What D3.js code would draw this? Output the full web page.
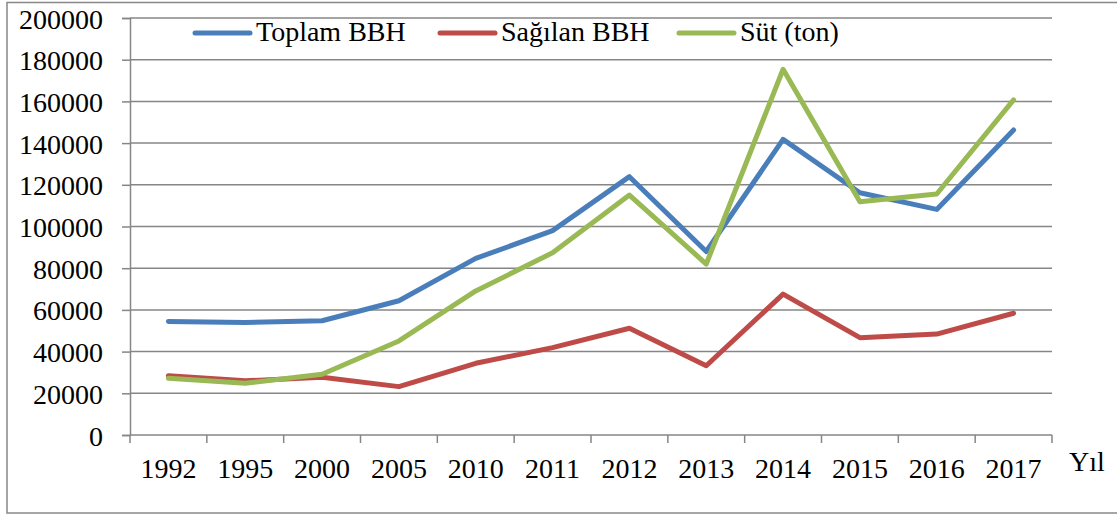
<!DOCTYPE html>
<html>
<head>
<meta charset="utf-8">
<script src="https://cdn.jsdelivr.net/npm/d3@7"></script>
<style>
  body { margin: 0; background: #fff; }
</style>
</head>
<body>
<svg id="chart" width="1117" height="515"></svg>
<script>
var years = ['1992', '1995', '2000', '2005', '2010', '2011', '2012', '2013', '2014', '2015', '2016', '2017'];
var toplam = [54400, 54000, 54800, 64400, 84700, 98000, 123900, 88000, 141800, 116200, 108200, 146300];
var sagilan = [28400, 26000, 27700, 23200, 34400, 41900, 51200, 33200, 67600, 46700, 48400, 58400];
var sut = [27200, 24800, 29100, 45100, 69100, 87400, 115100, 82000, 175400, 111900, 115600, 160700];
var yTicks = [0, 20000, 40000, 60000, 80000, 100000, 120000, 140000, 160000, 180000, 200000];
var seriesNames = ['Toplam BBH', 'Sağılan BBH', 'Süt (ton)'];
var seriesColors = ['#4a7ebb', '#be4b48', '#98b954'];

var svg = d3.select('#chart');
var gridColor = '#868686';
var serif = 'Liberation Serif';

// outer frame of the chart
svg.append('rect')
  .attr('x', 7).attr('y', 2.5)
  .attr('width', 1130).attr('height', 510.5)
  .attr('fill', 'none')
  .attr('stroke', '#888')
  .attr('stroke-width', 1.5);

var x = d3.scaleBand().domain(years).range([130, 1052]);
var y = d3.scaleLinear().domain([0, 200000]).range([435, 18]);

// gridlines
svg.append('g').selectAll('line')
  .data(yTicks.slice(1))
  .enter().append('line')
  .attr('x1', 130).attr('x2', 1052)
  .attr('y1', function(d) { return y(d); })
  .attr('y2', function(d) { return y(d); })
  .attr('stroke', gridColor)
  .attr('stroke-width', 1.5);

var yAxis = svg.append('g')
  .attr('transform', 'translate(130,0)')
  .call(d3.axisLeft(y).tickValues(yTicks).tickSize(8).tickPadding(19).tickFormat(d3.format('d')));
yAxis.select('.domain').attr('stroke', gridColor).attr('stroke-width', 1.5);
yAxis.selectAll('.tick line').attr('stroke', gridColor).attr('stroke-width', 1.5);
yAxis.selectAll('.tick text')
  .attr('dy', '0.36em')
  .style('font-family', serif)
  .style('font-size', '28px')
  .style('fill', '#000');

// x axis with ticks between categories
var xAxis = svg.append('g').attr('transform', 'translate(0,435)');
xAxis.append('line')
  .attr('x1', 130).attr('x2', 1052)
  .attr('stroke', gridColor).attr('stroke-width', 1.5);
xAxis.selectAll('line.tk')
  .data(years.concat(['end']))
  .enter().append('line')
  .attr('class', 'tk')
  .attr('x1', function(d, i) { return 130 + i * x.step(); })
  .attr('x2', function(d, i) { return 130 + i * x.step(); })
  .attr('y1', 0).attr('y2', 8)
  .attr('stroke', gridColor).attr('stroke-width', 1.5);
xAxis.selectAll('text')
  .data(years)
  .enter().append('text')
  .attr('x', function(d) { return x(d) + x.bandwidth() / 2; })
  .attr('y', 43)
  .attr('text-anchor', 'middle')
  .style('font-family', serif)
  .style('font-size', '28px')
  .text(function(d) { return d; });

svg.append('text')
  .attr('x', 1069).attr('y', 471)
  .style('font-family', serif)
  .style('font-size', '28px')
  .text('Yıl');

// series lines
var line = d3.line()
  .x(function(d, i) { return x(years[i]) + x.bandwidth() / 2; })
  .y(function(d) { return y(d); });

[toplam, sagilan, sut].forEach(function(values, k) {
  svg.append('path')
    .attr('d', line(values))
    .attr('fill', 'none')
    .attr('stroke', seriesColors[k])
    .attr('stroke-width', 5)
    .attr('stroke-linejoin', 'round')
    .attr('stroke-linecap', 'round');
});

// legend
var legendX = [195, 440, 679];
seriesNames.forEach(function(name, k) {
  var g = svg.append('g').attr('transform', 'translate(' + legendX[k] + ',33)');
  g.append('line')
    .attr('x1', 0).attr('x2', 55)
    .attr('stroke', seriesColors[k])
    .attr('stroke-width', 5)
    .attr('stroke-linecap', 'round');
  g.append('text')
    .attr('x', 61).attr('y', 8)
    .style('font-family', serif)
    .style('font-size', '28px')
    .text(name);
});
</script>
</body>
</html>
